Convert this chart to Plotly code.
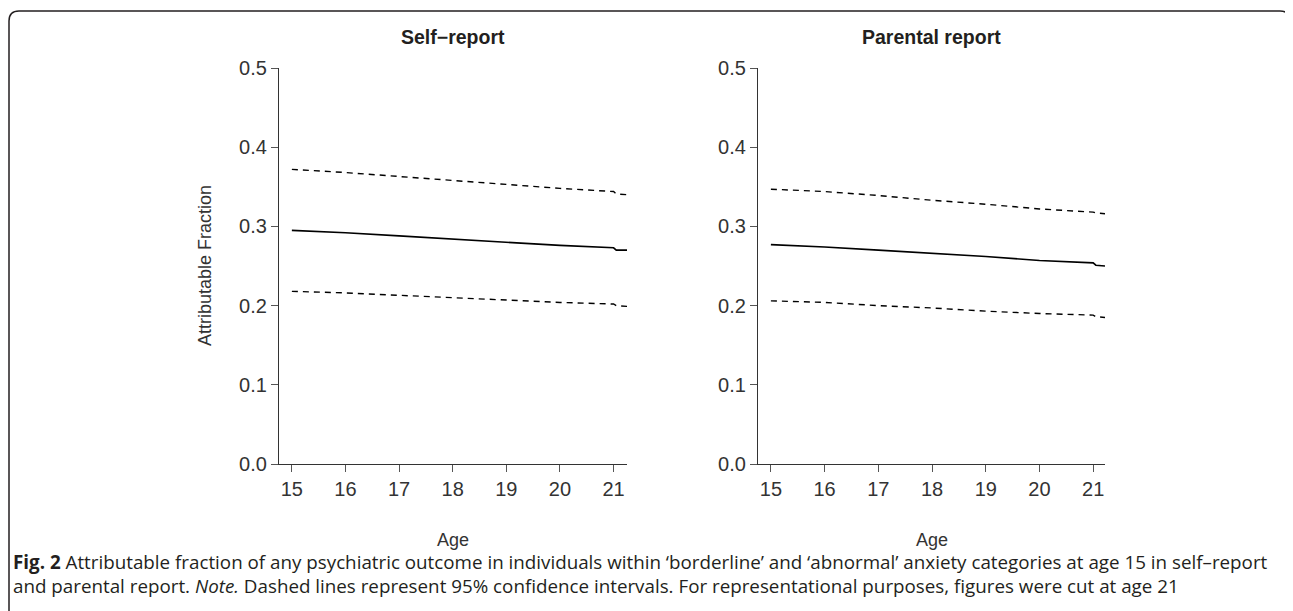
import plotly.graph_objects as go

# ---------------- data ----------------
age_self = [15.0, 16.0, 17.0, 18.0, 19.0, 20.0, 21.0, 21.05, 21.25]
af_self = [0.295, 0.292, 0.288, 0.284, 0.280, 0.276, 0.273, 0.270, 0.270]
upper_self = [0.372, 0.368, 0.363, 0.358, 0.353, 0.348, 0.344, 0.341, 0.340]
lower_self = [0.218, 0.216, 0.213, 0.210, 0.207, 0.204, 0.202, 0.200, 0.199]

age_par = [15.0, 16.0, 17.0, 18.0, 19.0, 20.0, 21.0, 21.05, 21.22]
af_par = [0.277, 0.274, 0.270, 0.266, 0.262, 0.257, 0.254, 0.251, 0.250]
upper_par = [0.347, 0.344, 0.339, 0.333, 0.328, 0.322, 0.318, 0.317, 0.316]
lower_par = [0.206, 0.204, 0.200, 0.197, 0.193, 0.190, 0.188, 0.186, 0.185]

panel_titles = ["Self\u2212report", "Parental report"]
y_ticks = [0.0, 0.1, 0.2, 0.3, 0.4, 0.5]
y_ticklabels = ["0.0", "0.1", "0.2", "0.3", "0.4", "0.5"]
x_ticks = [15, 16, 17, 18, 19, 20, 21]
x_title = "Age"
y_title = "Attributable Fraction"
caption = ("<b>Fig. 2</b> Attributable fraction of any psychiatric outcome in individuals within "
           "\u2018borderline\u2019 and \u2018abnormal\u2019 anxiety categories at age 15 in self\u2013report"
           "<br>and parental report. <i>Note.</i> Dashed lines represent 95% confidence intervals. "
           "For representational purposes, figures were cut at age 21")

# ---------------- layout geometry (pixels of the target picture) ----------------
W, H = 1293, 611
OFF = 8  # page offset of the figure inside the browser window

def px(x):
    return (x - OFF) / W

def py(y):
    return 1 - (y - OFF) / H

TOP, BOTTOM = 68, 464
panels = [
    dict(x0=279, x1=627, xr=[14.76, 21.25]),
    dict(x0=758, x1=1105, xr=[14.76, 21.22]),
]

INK = "#231f20"
AXC = "#333333"
FONT = "Liberation Sans"

fig = go.Figure()

series = [
    (age_self, af_self, upper_self, lower_self),
    (age_par, af_par, upper_par, lower_par),
]
for i, (ages, af, up, lo) in enumerate(series):
    xa = "x" if i == 0 else "x2"
    ya = "y" if i == 0 else "y2"
    for band in (up, lo):
        fig.add_trace(go.Scatter(x=ages, y=band, mode="lines", xaxis=xa, yaxis=ya,
                                 line=dict(color="black", width=1.4, dash="6px,5px"),
                                 showlegend=False, hoverinfo="skip"))
    fig.add_trace(go.Scatter(x=ages, y=af, mode="lines", xaxis=xa, yaxis=ya,
                             line=dict(color="black", width=1.6),
                             showlegend=False, hoverinfo="skip"))

tickfont = dict(family=FONT, size=20, color=AXC)
for i, p in enumerate(panels):
    sx = "" if i == 0 else "2"
    fig.layout["xaxis" + sx] = dict(
        domain=[px(p["x0"]), px(p["x1"])], range=p["xr"], anchor="y" + sx,
        tickvals=x_ticks, ticks="outside", ticklen=7, tickwidth=1, tickcolor="#555555",
        showline=True, linecolor=AXC, linewidth=1.2, showgrid=False, zeroline=False,
        tickfont=tickfont, automargin=False,
    )
    fig.layout["yaxis" + sx] = dict(
        domain=[py(BOTTOM), py(TOP)], range=[0, 0.5], anchor="x" + sx,
        tickvals=y_ticks, ticktext=y_ticklabels, ticks="outside", ticklen=7, tickwidth=1,
        tickcolor="#555555", showline=True, linecolor=AXC, linewidth=1.2,
        showgrid=False, zeroline=False, tickfont=tickfont, automargin=False,
    )
    cx = (px(p["x0"]) + px(p["x1"])) / 2
    # panel title
    fig.add_annotation(x=cx, y=py(37), xref="paper", yref="paper",
                       text="<b>" + panel_titles[i] + "</b>", showarrow=False,
                       font=dict(family=FONT, size=19.5, color=INK), xanchor="center", yanchor="middle")
    # x axis title
    fig.add_annotation(x=cx, y=py(540), xref="paper", yref="paper", text=x_title,
                       showarrow=False, font=dict(family=FONT, size=18, color=AXC),
                       xanchor="center", yanchor="middle")

# y axis title (left panel only)
fig.add_annotation(x=px(205), y=py(266), xref="paper", yref="paper", text=y_title,
                   showarrow=False, textangle=-90, font=dict(family=FONT, size=18, color=AXC),
                   xanchor="center", yanchor="middle")

# caption
fig.add_annotation(x=px(11), y=py(574), xref="paper", yref="paper", text=caption,
                   showarrow=False, xanchor="left", yanchor="middle", align="left",
                   font=dict(family="Open Sans", size=18.8, color=INK))

# outer frame with rounded top corners
r = 10
L, T, R, B = 9, 11, 1290, 640
path = (f"M {px(L)},{py(B)} L {px(L)},{py(T + r)} Q {px(L)},{py(T)} {px(L + r)},{py(T)} "
        f"L {px(R - r)},{py(T)} Q {px(R)},{py(T)} {px(R)},{py(T + r)} L {px(R)},{py(B)}")
fig.add_shape(type="path", path=path, xref="paper", yref="paper",
              line=dict(color=INK, width=1.5))

fig.update_layout(width=W, height=H, margin=dict(l=0, r=0, t=0, b=0, autoexpand=False),
                  paper_bgcolor="white", plot_bgcolor="white")
fig.write_html("out.html")
